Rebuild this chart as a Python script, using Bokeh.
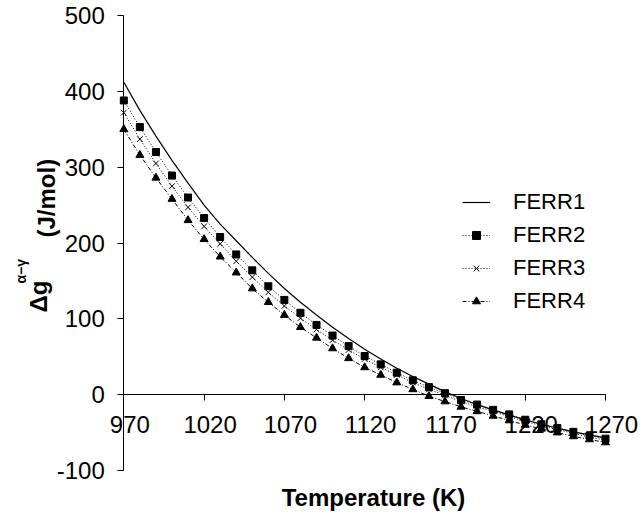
import math
from bokeh.plotting import figure
from bokeh.models import (LinearAxis, FixedTicker, Range1d, Label, Legend, LegendItem)
from bokeh.embed import file_html
from bokeh.resources import INLINE

# ---- data ----
temperature = [970, 980, 990, 1000, 1010, 1020, 1030, 1040, 1050, 1060, 1070,
               1080, 1090, 1100, 1110, 1120, 1130, 1140, 1150, 1160, 1170,
               1180, 1190, 1200, 1210, 1220, 1230, 1240, 1250, 1260, 1270]
ferr1 = [412, 375, 341, 309, 279, 250, 225, 203, 181, 160, 140,
         122, 105, 89, 74, 60, 47, 35, 24, 14, 4,
         -5, -13, -20, -27, -33, -39, -44, -49, -53, -57]
ferr2 = [388, 353, 320, 289, 260, 233, 208, 185, 164, 143, 125,
         108, 92, 78, 64, 51, 40, 29, 19, 10, 2,
         -7, -13, -20, -26, -33, -39, -44, -49, -54, -58]
ferr3 = [372, 337, 305, 275, 247, 222, 199, 176, 155, 135, 117,
         101, 86, 72, 59, 47, 36, 26, 16, 7, -1,
         -9, -16, -22, -29, -35, -41, -46, -51, -56, -60]
ferr4 = [350, 316, 286, 258, 230, 205, 182, 161, 140, 122, 105,
         89, 75, 61, 48, 36, 26, 16, 7, -2, -9,
         -16, -22, -28, -34, -40, -45, -50, -55, -59, -63]
series_names = ["FERR1", "FERR2", "FERR3", "FERR4"]
x_ticks = [970, 1020, 1070, 1120, 1170, 1220, 1270]
y_ticks = [-100, 0, 100, 200, 300, 400, 500]

FONT = "Liberation Sans"

p = figure(width=643, height=520, output_backend="svg", toolbar_location=None,
           x_range=Range1d(893.2, 1293.65), y_range=Range1d(-165.9, 519.85),
           x_axis_location=None, y_axis_location=None,
           min_border_left=0, min_border_right=0, min_border_top=0,
           min_border_bottom=0)
p.outline_line_color = None
p.xgrid.visible = False
p.ygrid.visible = False
p.background_fill_color = "white"
p.border_fill_color = "white"

# axes (crossing at T=970 and Δg=0)
yax = LinearAxis(ticker=FixedTicker(ticks=y_ticks), fixed_location=970,
                 bounds=(-100, 500))
xax = LinearAxis(ticker=FixedTicker(ticks=x_ticks), fixed_location=0,
                 bounds=(970, 1270))
yax.major_label_overrides = {-100: "-100"}
xax.major_label_overrides = {t: "\u2002" + str(t) for t in x_ticks}
for ax in (xax, yax):
    ax.axis_line_color = "black"
    ax.axis_line_width = 1
    ax.major_tick_line_color = "black"
    ax.major_tick_out = 6
    ax.major_tick_in = 0
    ax.minor_tick_line_color = None
    ax.major_label_text_font = FONT
    ax.major_label_text_font_size = "24px"
    ax.major_label_text_color = "black"
xax.major_label_standoff = 10
yax.major_label_standoff = 13
p.add_layout(yax, "left")
p.add_layout(xax, "below")

# series
r1 = p.line(temperature, ferr1, line_color="black", line_width=1.2)
r2l = p.line(temperature, ferr2, line_color="black", line_width=1, line_dash="1 2")
r2m = p.scatter(temperature, ferr2, marker="square", size=7, fill_color="black",
                line_color="black")
r3l = p.line(temperature, ferr3, line_color="black", line_width=1, line_dash="1 2")
r3m = p.scatter(temperature, ferr3, marker="x", size=8, line_color="black",
                line_width=1)
r4l = p.line(temperature, ferr4, line_color="black", line_width=1, line_dash="4 2 1 2")
r4m = p.scatter(temperature, ferr4, marker="triangle", size=8, fill_color="black",
                line_color="black")

legend = Legend(items=[
    LegendItem(label=series_names[0], renderers=[r1]),
    LegendItem(label=series_names[1], renderers=[r2l, r2m]),
    LegendItem(label=series_names[2], renderers=[r3l, r3m]),
    LegendItem(label=series_names[3], renderers=[r4l, r4m]),
], location=(462, 206))
legend.border_line_color = None
legend.background_fill_alpha = 0
legend.padding = 0
legend.margin = 0
legend.spacing = 7
legend.glyph_width = 28
legend.glyph_height = 20
legend.label_height = 25
legend.label_standoff = 23
legend.label_text_font = FONT
legend.label_text_font_size = "22px"
legend.label_text_color = "black"
p.add_layout(legend, "center")

# axis titles
p.add_layout(Label(x=1125.5, y=-135.6, text="Temperature (K)", text_font=FONT,
                   text_font_size="24px", text_font_style="bold",
                   text_align="center", text_baseline="middle",
                   text_color="black"))
p.add_layout(Label(x=916.9, y=108.4, text="Δg", text_font=FONT,
                   text_font_size="24px", text_font_style="bold",
                   angle=math.pi / 2, text_align="left",
                   text_baseline="middle", text_color="black"))
p.add_layout(Label(x=905.7, y=146.6, text="α−γ", text_font=FONT,
                   text_font_size="14px", text_font_style="bold",
                   angle=math.pi / 2, text_align="left",
                   text_baseline="middle", text_color="black"))
p.add_layout(Label(x=921.9, y=207.3, text="(J/mol)", text_font=FONT,
                   text_font_size="24px", text_font_style="bold",
                   angle=math.pi / 2, text_align="left",
                   text_baseline="middle", text_color="black"))

open("out.html", "w").write(file_html(p, INLINE))
